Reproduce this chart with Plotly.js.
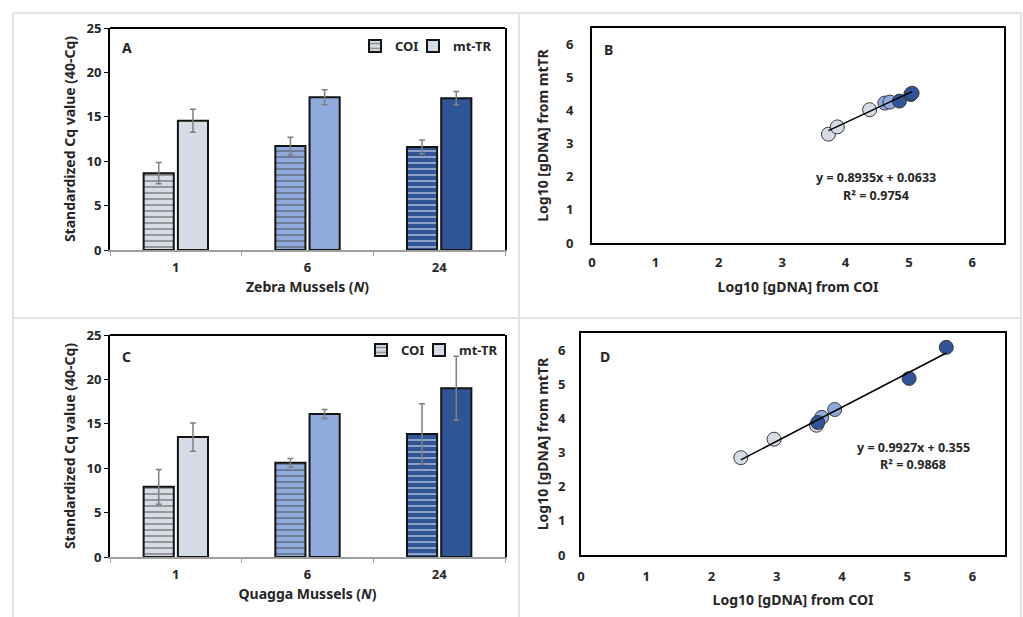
<!DOCTYPE html>
<html>
<head>
<meta charset="utf-8">
<script src="https://cdn.plot.ly/plotly-3.0.1.min.js"></script>
<style>html,body{margin:0;padding:0;background:#fff;}#chart{width:1023px;height:617px;}</style>
</head>
<body>
<div id="chart"></div>
<script>
// ---- data ----
const categories = ['1', '6', '24'];
const groupColors = ['#D6DCE5', '#8FAADC', '#2F5597'];
const stripeColors = ['#3a3a3a', '#1c2a45', '#0b1630'];

const zebraCOI = [8.65, 11.7, 11.6];
const zebraCOIErr = [1.2, 1.0, 0.8];
const zebraMT = [14.55, 17.2, 17.1];
const zebraMTErr = [1.3, 0.85, 0.75];

const quaggaCOI = [7.9, 10.6, 13.85];
const quaggaCOIErr = [1.95, 0.5, 3.4];
const quaggaMT = [13.5, 16.1, 19.0];
const quaggaMTErr = [1.6, 0.5, 3.6];

const zebraLogCOI = [3.73, 3.87, 4.38, 4.62, 4.70, 4.85, 5.03, 5.05];
const zebraLogMT  = [3.29, 3.51, 4.03, 4.23, 4.26, 4.29, 4.49, 4.53];
const zebraGroup  = [0, 0, 0, 1, 1, 2, 2, 2];
const zebraFit = {slope: 0.8935, intercept: 0.0633, r2: 0.9754};

const quaggaLogCOI = [2.45, 2.96, 3.61, 3.69, 3.89, 3.63, 5.03, 5.60];
const quaggaLogMT  = [2.85, 3.39, 3.80, 4.03, 4.26, 3.88, 5.17, 6.08];
const quaggaGroup  = [0, 0, 0, 1, 1, 2, 2, 2];
const quaggaFit = {slope: 0.9927, intercept: 0.355, r2: 0.9868};

// ---- helpers ----
const W = 1023, H = 617;
const X = p => p / W;
const Y = p => 1 - p / H;
const FONT = '"Noto Sans", "Open Sans", sans-serif';
const TXT = '#262626';

function barTrace(name, vals, errs, xa, ya, striped, legend) {
  const t = {
    type: 'bar', name: name, x: categories, y: vals,
    xaxis: xa, yaxis: ya, legend: legend, showlegend: true,
    error_y: {type: 'data', array: errs, visible: true, color: '#7f7f7f', thickness: 1.5, width: 3},
    marker: {color: groupColors, line: {color: '#141414', width: 2}},
    hoverinfo: 'skip'
  };
  if (striped) {
    t.marker.pattern = {shape: '-', bgcolor: groupColors, fgcolor: stripeColors, size: 6, solidity: 0.3, fillmode: 'overlay'};
  }
  return t;
}

function scatterTraces(xs, ys, gs, fit, xa, ya) {
  const xmin = Math.min(...xs), xmax = Math.max(...xs);
  return [
    {type: 'scatter', mode: 'markers', x: xs, y: ys, xaxis: xa, yaxis: ya, showlegend: false,
     marker: {size: 14, color: gs.map(g => groupColors[g]), line: {color: '#3a3a3a', width: 1}}, hoverinfo: 'skip'},
    {type: 'scatter', mode: 'lines', x: [xmin, xmax], y: [fit.slope * xmin + fit.intercept, fit.slope * xmax + fit.intercept],
     xaxis: xa, yaxis: ya, showlegend: false, line: {color: '#000', width: 1.5}, hoverinfo: 'skip'}
  ];
}

const traces = [
  barTrace('COI', zebraCOI, zebraCOIErr, 'x', 'y', true, 'legend'),
  barTrace('mt-TR', zebraMT, zebraMTErr, 'x', 'y', false, 'legend3'),
  ...scatterTraces(zebraLogCOI, zebraLogMT, zebraGroup, zebraFit, 'x2', 'y2'),
  barTrace('COI', quaggaCOI, quaggaCOIErr, 'x3', 'y3', true, 'legend2'),
  barTrace('mt-TR', quaggaMT, quaggaMTErr, 'x3', 'y3', false, 'legend4'),
  ...scatterTraces(quaggaLogCOI, quaggaLogMT, quaggaGroup, quaggaFit, 'x4', 'y4')
];

const tickFont = {family: FONT, size: 13, color: TXT, weight: 'bold'};
const titleFont = {family: FONT, size: 14, color: TXT, weight: 'bold'};

function barX(domain, anchor, title) {
  return {domain: domain, anchor: anchor, type: 'category', tickson: 'boundaries', ticks: 'outside', ticklen: 4,
    tickcolor: '#a0a0a0', tickwidth: 1, showline: true, linecolor: '#a0a0a0', linewidth: 2,
    showgrid: false, zeroline: false, tickfont: tickFont, ticklabelstandoff: 4, fixedrange: true,
    title: {text: title, font: titleFont, standoff: 8}};
}
function barY(domain, anchor) {
  return {domain: domain, anchor: anchor, range: [0, 25], dtick: 5, ticks: 'outside', ticklen: 4,
    tickcolor: '#000', showline: true, mirror: true, linecolor: '#000', linewidth: 2,
    showgrid: false, zeroline: false, tickfont: tickFont, fixedrange: true,
    title: {text: 'Standardized Cq value (40-Cq)', font: titleFont, standoff: 8}};
}
function scX(domain, anchor, standoffLab, titleStandoff) {
  return {domain: domain, anchor: anchor, range: [0, 6.5], dtick: 1, ticks: '', showline: true, mirror: true,
    linecolor: '#000', linewidth: 2, showgrid: false, zeroline: false, tickfont: tickFont,
    ticklabelstandoff: standoffLab, fixedrange: true,
    title: {text: 'Log10 [gDNA] from COI', font: titleFont, standoff: titleStandoff}};
}
function scY(domain, anchor, standoffLab, titleStandoff) {
  return {domain: domain, anchor: anchor, range: [0, 6.5], dtick: 1, ticks: '', showline: true, mirror: true,
    linecolor: '#000', linewidth: 2, showgrid: false, zeroline: false, tickfont: tickFont,
    ticklabelstandoff: standoffLab, fixedrange: true,
    title: {text: 'Log10 [gDNA] from mtTR', font: titleFont, standoff: titleStandoff}};
}

const panelLine = (x0, y0, x1, y1) => ({type: 'line', xref: 'paper', yref: 'paper',
  x0: X(x0), y0: Y(y0), x1: X(x1), y1: Y(y1), line: {color: '#e4e4e4', width: 2}, layer: 'below'});
const topLine = (xa, ya) => ({type: 'line', xref: xa + ' domain', yref: ya + ' domain',
  x0: 0, x1: 1, y0: 1, y1: 1, line: {color: '#000', width: 2}});

const annFont = {family: FONT, size: 12.5, color: TXT, weight: 'bold'};
const ann = (x, y, text, size) => ({xref: 'paper', yref: 'paper', x: X(x), y: Y(y), text: text,
  showarrow: false, xanchor: 'center', yanchor: 'middle', font: Object.assign({}, annFont, size ? {size: size} : {})});

const legendBase = {orientation: 'h', xanchor: 'left', yanchor: 'top', bgcolor: 'rgba(0,0,0,0)',
  font: {family: FONT, size: 13, color: TXT, weight: 'bold'}, itemwidth: 30, traceorder: 'normal'};
const leg = (x, y) => Object.assign({}, legendBase, {x: X(x), y: Y(y)});

const layout = {
  width: W, height: H, margin: {l: 0, r: 0, t: 0, b: 0},
  paper_bgcolor: '#fff', plot_bgcolor: '#fff',
  barmode: 'group', bargap: 0.48, bargroupgap: 0.12,
  font: {family: FONT, color: TXT},
  xaxis: barX([X(110), X(505)], 'y', 'Zebra Mussels (<i>N</i>)'),
  yaxis: barY([Y(250), Y(28)], 'x'),
  xaxis2: scX([X(592), X(1004)], 'y2', 6, 13),
  yaxis2: scY([Y(243), Y(28)], 'x2', 14, 14),
  xaxis3: barX([X(110), X(505)], 'y3', 'Quagga Mussels (<i>N</i>)'),
  yaxis3: barY([Y(557), Y(335)], 'x3'),
  xaxis4: scX([X(581), X(1005)], 'y4', 8, 12),
  yaxis4: scY([Y(555), Y(333)], 'x4', 11, 6),
  legend: leg(355, 31),
  legend3: leg(413, 31),
  legend2: leg(361, 335),
  legend4: leg(419, 335),
  shapes: [
    panelLine(13, 13, 1021, 13), panelLine(13, 318, 1021, 318),
    panelLine(13, 13, 13, 617), panelLine(519, 13, 519, 617), panelLine(1021, 13, 1021, 617),
    topLine('x', 'y'), topLine('x3', 'y3')
  ],
  annotations: [
    ann(127, 48, 'A', 14), ann(608, 49, 'B', 14), ann(126, 356, 'C', 14), ann(605, 356, 'D', 14),
    ann(876, 178, 'y = ' + zebraFit.slope + 'x + ' + zebraFit.intercept),
    ann(876, 195, 'R² = ' + zebraFit.r2),
    ann(913, 447, 'y = ' + quaggaFit.slope + 'x + ' + quaggaFit.intercept),
    ann(913, 464, 'R² = ' + quaggaFit.r2)
  ]
};

Plotly.newPlot('chart', traces, layout, {staticPlot: true, displayModeBar: false});
</script>
</body>
</html>
